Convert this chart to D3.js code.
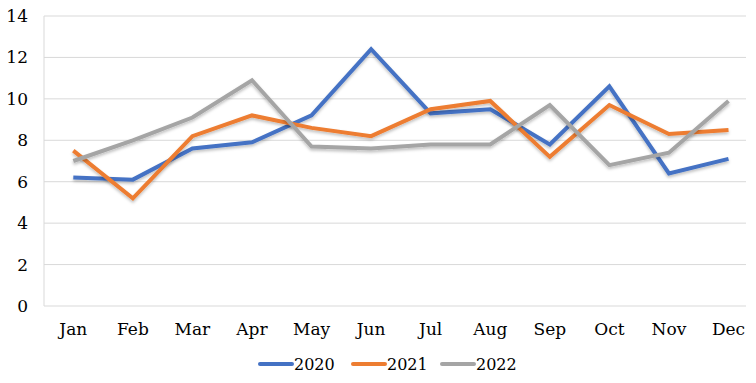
<!DOCTYPE html>
<html>
<head>
<meta charset="utf-8">
<script src="https://cdn.jsdelivr.net/npm/d3@7"></script>
<style>
  body { margin: 0; background: #fff; }
  text { font-family: Georgia, "DejaVu Serif", serif; fill: #000; }
</style>
</head>
<body>
<div id="chart"></div>
<script>
// data
var months = ["Jan","Feb","Mar","Apr","May","Jun","Jul","Aug","Sep","Oct","Nov","Dec"];
var s2020 = [6.2, 6.1, 7.6, 7.9, 9.2, 12.4, 9.3, 9.5, 7.8, 10.6, 6.4, 7.1];
var s2021 = [7.5, 5.2, 8.2, 9.2, 8.6, 8.2, 9.5, 9.9, 7.2, 9.7, 8.3, 8.5];
var s2022 = [7.0, 8.0, 9.1, 10.9, 7.7, 7.6, 7.8, 7.8, 9.7, 6.8, 7.4, 9.9];
var yTicks = [0, 2, 4, 6, 8, 10, 12, 14];

var series = [
  {name: "2020", values: s2020, color: "#4472C4"},
  {name: "2021", values: s2021, color: "#ED7D31"},
  {name: "2022", values: s2022, color: "#A5A5A5"}
];

var W = 756, H = 383;
var plotL = 44, plotT = 16, plotB = 306, plotR = 746;

var svg = d3.select("#chart").append("svg")
  .attr("width", W)
  .attr("height", H);

var defs = svg.append("defs");
var f = defs.append("filter").attr("id","shadow")
  .attr("x","-5%").attr("y","-10%").attr("width","110%").attr("height","130%");
f.append("feDropShadow").attr("dx",0).attr("dy",2).attr("stdDeviation",1.5)
  .attr("flood-color","#000").attr("flood-opacity",0.25);

var x = d3.scalePoint()
  .domain(months)
  .range([73.3, 728.5]);

var y = d3.scaleLinear()
  .domain([0, 14])
  .range([plotB, plotT]);

// gridlines
svg.append("g")
  .selectAll("line")
  .data(yTicks)
  .enter().append("line")
    .attr("x1", plotL).attr("x2", plotR)
    .attr("y1", function(d){ return y(d); })
    .attr("y2", function(d){ return y(d); })
    .attr("stroke", "#d9d9d9")
    .attr("stroke-width", 1);

svg.append("line")
  .attr("x1", plotL).attr("x2", plotL)
  .attr("y1", plotT).attr("y2", plotB)
  .attr("stroke", "#d9d9d9");

// y labels
svg.append("g")
  .selectAll("text")
  .data(yTicks)
  .enter().append("text")
    .attr("x", 28)
    .attr("y", function(d){ return y(d); })
    .attr("dy", "0.35em")
    .attr("text-anchor", "end")
    .attr("font-size", 17)
    .text(function(d){ return d; });

// x labels
svg.append("g")
  .selectAll("text")
  .data(months)
  .enter().append("text")
    .attr("x", function(d){ return x(d); })
    .attr("y", 329)
    .attr("dy", "0.35em")
    .attr("text-anchor", "middle")
    .attr("font-size", 17)
    .text(function(d){ return d; });

var line = d3.line()
  .x(function(d, i){ return x(months[i]); })
  .y(function(d){ return y(d); });

for (var s of series) {
  svg.append("path")
    .attr("fill", "none")
    .attr("stroke", s.color)
    .attr("stroke-width", 4)
    .attr("stroke-linejoin", "miter")
    .attr("filter", "url(#shadow)")
    .attr("d", line(s.values));
}

// legend
var legX = [260, 353, 442];
var leg = svg.append("g");
series.forEach(function(s, i){
  leg.append("line")
    .attr("x1", legX[i]).attr("x2", legX[i] + 32)
    .attr("y1", 364).attr("y2", 364)
    .attr("stroke", s.color)
    .attr("stroke-width", 4)
    .attr("stroke-linecap", "round");
  leg.append("text")
    .attr("x", legX[i] + 34)
    .attr("y", 364)
    .attr("dy", "0.35em")
    .attr("font-size", 16)
    .text(s.name);
});
</script>
</body>
</html>
